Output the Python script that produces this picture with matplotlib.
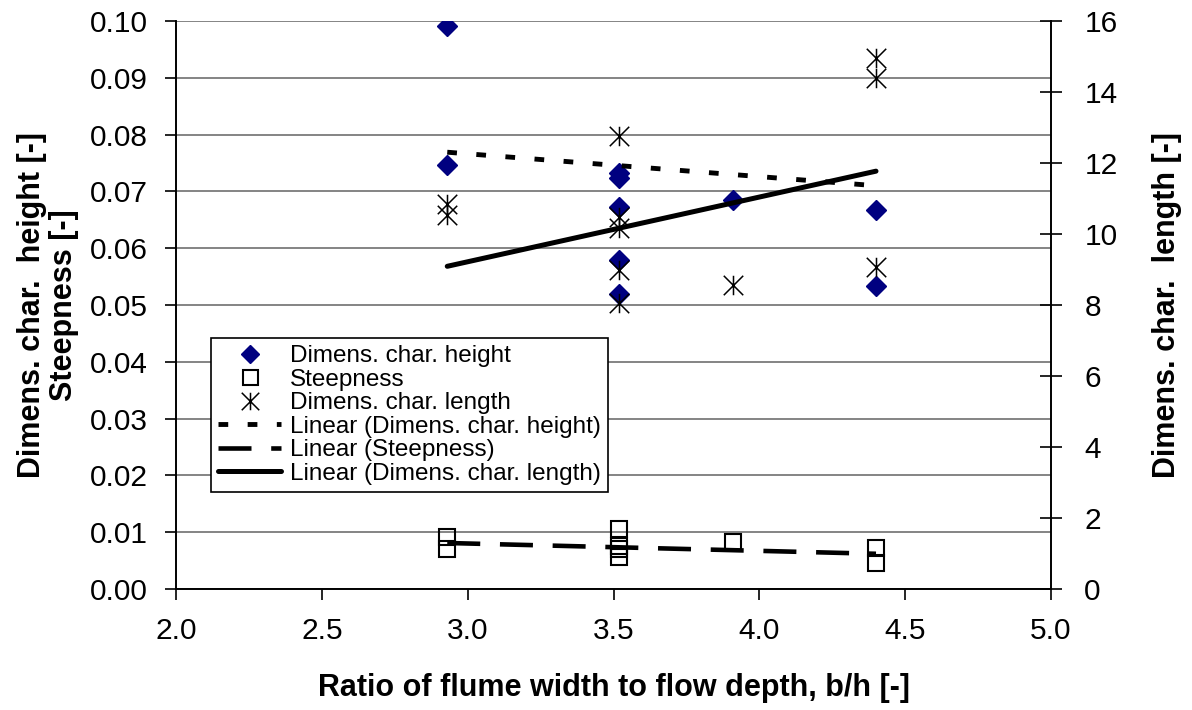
import matplotlib.pyplot as plt
from matplotlib.path import Path

plt.rcParams['font.family'] = ['Liberation Sans', 'DejaVu Sans']

# dimensionless characteristic height (left axis)
height_x = [2.93, 2.93, 3.52, 3.52, 3.52, 3.52, 3.52, 3.91, 4.40, 4.40]
height_y = [0.0991, 0.0747, 0.0732, 0.0724, 0.0672, 0.0579, 0.0519, 0.0685, 0.0667, 0.0533]

# steepness (left axis)
steep_x = [2.93, 2.93, 3.52, 3.52, 3.52, 3.52, 3.91, 4.40, 4.40]
steep_y = [0.0092, 0.0071, 0.0106, 0.0076, 0.0071, 0.0057, 0.0082, 0.0072, 0.0046]

# dimensionless characteristic length (right axis)
length_x = [2.93, 2.93, 3.52, 3.52, 3.52, 3.52, 3.52, 3.91, 4.40, 4.40, 4.40]
length_y = [10.85, 10.54, 12.76, 10.49, 10.16, 9.0, 8.05, 8.56, 14.95, 14.39, 9.08]

# linear trend lines (start / end)
trend_x = [2.93, 4.40]
trend_height = [0.0769, 0.0710]
trend_steep = [0.0081, 0.0062]
trend_length = [9.09, 11.77]

# excel style asterisk: X plus vertical bar
star = Path([(0, -1), (0, 1), (-1, -1), (1, 1), (-1, 1), (1, -1)],
            [Path.MOVETO, Path.LINETO] * 3)

fig = plt.figure(figsize=(11.92, 7.1), dpi=100)
ax = fig.add_axes([176/1192, 1 - 589/710, 875/1192, 568/710])
ax2 = ax.twinx()

navy = '#000080'
ax.plot(height_x, height_y, linestyle='none', marker='D', ms=10.5, color=navy,
        mec=navy, label='Dimens. char. height')
ax.plot(steep_x, steep_y, linestyle='none', marker='s', ms=12, mfc='none',
        mec='black', mew=1.5, label='Steepness')
ax2.plot(length_x, length_y, linestyle='none', marker=star, ms=14,
         color='black', mew=1.1, label='Dimens. char. length')

ax.plot(trend_x, trend_height, color='black', lw=3.5, linestyle=(0, (2, 4)),
        label='Linear (Dimens. char. height)')
ax.plot(trend_x, trend_steep, color='black', lw=3.3, linestyle=(0, (7.2, 4.3)),
        label='Linear (Steepness)')
ax2.plot(trend_x, trend_length, color='black', lw=3.6, solid_capstyle='round',
         label='Linear (Dimens. char. length)')

ax.set_xlim(2.0, 5.0)
ax.set_ylim(0, 0.10)
ax2.set_ylim(0, 16)
ax.set_xticks([2.0, 2.5, 3.0, 3.5, 4.0, 4.5, 5.0])
ax.set_xticklabels(['2.0', '2.5', '3.0', '3.5', '4.0', '4.5', '5.0'])
ax.set_yticks([i / 100 for i in range(11)])
ax.set_yticklabels(['%.2f' % (i / 100) for i in range(11)])
ax2.set_yticks(range(0, 17, 2))

ax.grid(axis='y', color='#707070', lw=1.2)
ax.set_axisbelow(True)
for a in (ax, ax2):
    a.spines['top'].set_visible(False)
    for s in a.spines.values():
        s.set_linewidth(1.2)
ax.tick_params(axis='y', labelsize=21.5, length=8, width=1.2, direction='out', pad=12)
ax.tick_params(axis='x', labelsize=21.5, length=8, width=1.2, direction='out', pad=12)
ax2.tick_params(axis='y', labelsize=21.5, length=16, width=1.2, direction='inout', pad=16)

lab = dict(fontsize=22, fontweight='bold')
ax.set_xlabel('Ratio of flume width to flow depth, b/h [-]', labelpad=20, **lab)
ax.set_ylabel('Dimens. char.  height [-]\nSteepness [-]', labelpad=8, linespacing=1.1, **lab)
ax2.set_ylabel('Dimens. char.  length [-]', labelpad=25, **lab)

h1, l1 = ax.get_legend_handles_labels()
h2, l2 = ax2.get_legend_handles_labels()
handles = [h1[0], h1[1], h2[0], h1[2], h1[3], h2[1]]
labels = [l1[0], l1[1], l2[0], l1[2], l1[3], l2[1]]
leg = ax2.legend(handles, labels, loc='upper left', bbox_to_anchor=(0.04, 0.442),
                 fontsize=17.5, frameon=True, fancybox=False, edgecolor='black',
                 handlelength=2.6, handletextpad=0.35, labelspacing=0.06,
                 borderpad=0.3, borderaxespad=0, markerscale=0.9)
leg.get_frame().set_linewidth(1.2)
leg.get_frame().set_alpha(1)

fig.savefig('out.png', dpi=100)
